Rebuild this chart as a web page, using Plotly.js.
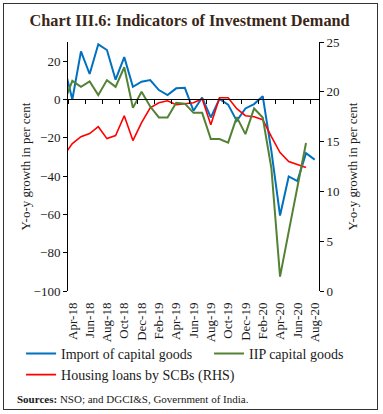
<!DOCTYPE html>
<html>
<head>
<meta charset="utf-8">
<script src="https://cdn.plot.ly/plotly-3.0.1.min.js"></script>
<style>
  html, body { margin: 0; padding: 0; background: #fff; }
  #wrap { position: relative; width: 383px; height: 414px; }
  #chart { position: absolute; left: 0; top: 0; width: 383px; height: 414px; }
  #frame { position: absolute; left: 3px; top: 3px; width: 373px; height: 405px;
           border: 1.3px solid #333; pointer-events: none; }
</style>
</head>
<body>
<div id="wrap"><div id="chart"></div><div id="frame"></div></div>
<script>
// Months (Mar-18 is only partly visible at the left edge of the plot)
const months = ['Mar-18','Apr-18','May-18','Jun-18','Jul-18','Aug-18','Sep-18','Oct-18','Nov-18','Dec-18',
  'Jan-19','Feb-19','Mar-19','Apr-19','May-19','Jun-19','Jul-19','Aug-19','Sep-19','Oct-19','Nov-19','Dec-19',
  'Jan-20','Feb-20','Mar-20','Apr-20','May-20','Jun-20','Jul-20','Aug-20'];

const tickLabels = ['Apr-18','Jun-18','Aug-18','Oct-18','Dec-18','Feb-19','Apr-19','Jun-19',
  'Aug-19','Oct-19','Dec-19','Feb-20','Apr-20','Jun-20','Aug-20'];

// Y-o-y growth, per cent
const importCapitalGoods = [18.4, 0, 25.1, 13.3, 28.8, 25.8, 10.3, 22.1, 6.6, 9.3,
  10.1, 4.9, 2.3, 5.8, 6.1, -5.9, 1.0, -9.4, 0.3, -2.7, -11.2, -4.7,
  -2.4, 1.7, -27, -60.6, -40.2, -42.6, -28, -31.4];

const iipCapitalGoods = [-2, 9.7, 6.6, 9.4, 2.3, 10.1, 6.6, 16.8, -4.4, 4.0,
  -3.7, -9.4, -9.4, -1.7, -2.2, -7.0, -7.0, -20.7, -20.7, -22.5, -9.2, -18.1,
  -4.7, -9.4, -36, -92.5, -69, -45, -22.7, null];

const housingLoans = [13.6, 14.8, 15.5, 15.8, 16.5, 15.3, 15.6, 17.6, 15.1, 16.9,
  18.4, 18.9, 19.1, 18.7, 18.8, 18.9, 19.3, 16.7, 19.4, 19.4, 18.3, 17.6,
  17.5, 17.2, 15.5, 13.9, 13.0, 12.7, 12.4, null];

const seriesNames = ['Import of capital goods', 'IIP capital goods', 'Housing loans by SCBs (RHS)'];

const SERIF = '"Liberation Serif", "DejaVu Serif", serif';
const TXT = '#1a1a1a';

const leftRange = [-100, 30];
const zeroPos = (0 - leftRange[0]) / (leftRange[1] - leftRange[0]);

const traces = [
  { x: months, y: importCapitalGoods, name: seriesNames[0], type: 'scatter', mode: 'lines',
    line: { color: '#0070C0', width: 2 }, xaxis: 'x', yaxis: 'y', legend: 'legend', legendrank: 1 },
  { x: months, y: iipCapitalGoods, name: seriesNames[1], type: 'scatter', mode: 'lines',
    line: { color: '#548235', width: 2 }, xaxis: 'x2', yaxis: 'y', legend: 'legend2' },
  { x: months, y: housingLoans, name: seriesNames[2], type: 'scatter', mode: 'lines',
    line: { color: '#FF0000', width: 1.6 }, xaxis: 'x', yaxis: 'y2', legend: 'legend', legendrank: 2 }
];

const legendFont = { family: SERIF, size: 14, color: TXT };
const legendY = -0.188;

const layout = {
  width: 383, height: 414,
  margin: { l: 68, r: 64, t: 42, b: 123 },
  paper_bgcolor: '#fff', plot_bgcolor: '#fff',
  font: { family: SERIF, size: 13, color: TXT },
  showlegend: true,
  title: {
    text: '<b>Chart III.6: Indicators of Investment Demand</b>',
    font: { family: SERIF, size: 16.3, color: '#3a2616' },
    xref: 'container', yref: 'container', x: 0.495, xanchor: 'center', y: 0.951, yanchor: 'middle'
  },
  xaxis: {
    type: 'category', categoryorder: 'array', categoryarray: months,
    range: [0.5, 29.5],
    tickmode: 'array', tickvals: tickLabels, ticktext: tickLabels,
    tickangle: -90, ticks: '', showline: false, showgrid: false, zeroline: false,
    ticklabelstandoff: 8,
    tickfont: { family: SERIF, size: 13, color: TXT },
    anchor: 'y', side: 'bottom'
  },
  xaxis2: {
    type: 'category', categoryorder: 'array', categoryarray: months,
    matches: 'x', overlaying: 'x', anchor: 'free', position: zeroPos, side: 'bottom',
    tickmode: 'array', tickvals: tickLabels, tickson: 'boundaries',
    ticks: 'outside', ticklen: 4, tickcolor: '#000', tickwidth: 1,
    showticklabels: false, showline: true, linecolor: '#000', linewidth: 1,
    showgrid: false, zeroline: false
  },
  yaxis: {
    range: leftRange, dtick: 20, tick0: 0,
    ticks: 'outside', ticklen: 4, tickcolor: '#000',
    showline: true, linecolor: '#000', linewidth: 1,
    showgrid: false, zeroline: false,
    tickfont: { family: SERIF, size: 13, color: TXT },
    title: { text: 'Y-o-y growth in per cent', font: { family: SERIF, size: 13, color: TXT }, standoff: 0 }
  },
  yaxis2: {
    range: [0, 25], dtick: 5, tick0: 0, overlaying: 'y', side: 'right', anchor: 'x',
    ticks: 'outside', ticklen: 4, tickcolor: '#000',
    showline: true, linecolor: '#000', linewidth: 1,
    showgrid: false, zeroline: false,
    tickfont: { family: SERIF, size: 13, color: TXT },
    title: { text: 'Y-o-y growth in per cent', font: { family: SERIF, size: 13, color: TXT }, standoff: 9 }
  },
  legend: {
    orientation: 'v', x: -0.187, xanchor: 'left', y: legendY, yanchor: 'top',
    font: legendFont, bgcolor: 'rgba(0,0,0,0)', tracegroupgap: 0, traceorder: 'normal'
  },
  legend2: {
    orientation: 'v', x: 0.562, xanchor: 'left', y: legendY, yanchor: 'top',
    font: legendFont, bgcolor: 'rgba(0,0,0,0)'
  },
  annotations: [{
    text: '<b>Sources:</b> NSO; and DGCI&amp;S, Government of India.',
    xref: 'paper', yref: 'paper', x: -0.211, y: -0.434, xanchor: 'left', yanchor: 'middle',
    showarrow: false, font: { family: SERIF, size: 11, color: TXT }
  }]
};

Plotly.newPlot('chart', traces, layout, { displayModeBar: false, staticPlot: true });
</script>
</body>
</html>
